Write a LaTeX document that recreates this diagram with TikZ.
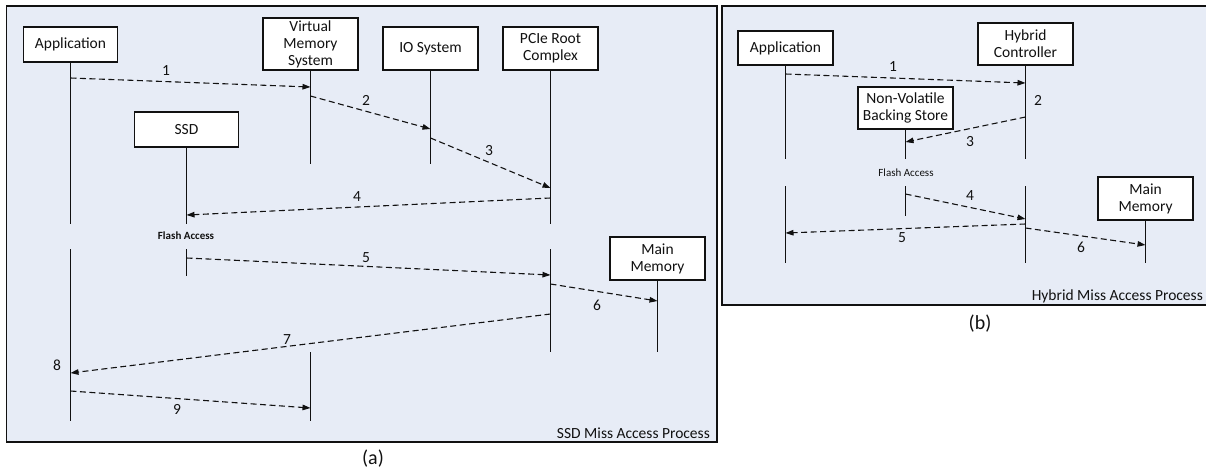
\documentclass[tikz,border=0pt]{standalone}
\usepackage{fontspec}
\setmainfont{Carlito}
\usetikzlibrary{arrows.meta}
\definecolor{panelfill}{HTML}{E7ECF6}
\definecolor{ink}{HTML}{111111}
\begin{document}
\begin{tikzpicture}[x=1pt,y=-1pt,
  box/.style={draw=ink, line width=1.1pt, fill=white, align=center, inner sep=0pt,
    font=\fontsize{15.5}{17}\selectfont, text=ink},
  life/.style={draw=ink, line width=1.2pt},
  msg/.style={draw=ink, line width=1.1pt, dash pattern=on 6pt off 3.5pt,
    -{Triangle[length=8pt,width=5.5pt]}},
  lbl/.style={font=\fontsize{15.5}{17}\selectfont, text=ink, inner sep=0pt},
  smalltext/.style={font=\fontsize{11}{13}\selectfont, text=ink, inner sep=0pt},
  captext/.style={font=\fontsize{20}{24}\selectfont, text=ink, inner sep=0pt},
  panel/.style={draw=ink, line width=1.3pt, fill=panelfill}]
\useasboundingbox (0,0) rectangle (1206,475);
% panels
\draw[panel] (6.5,6) rectangle (717,442);
\draw[panel] (722,6) rectangle (1214,305);

% ---------- (a) SSD ----------
\node[box, minimum width=94pt, minimum height=35pt] (aApp) at (70.5,44.5) {Application};
\node[box, minimum width=95pt, minimum height=52pt] (aVMS) at (310.5,44) {Virtual\\Memory\\System};
\node[box, minimum width=95pt, minimum height=43pt] (aIO) at (430.5,48.5) {IO System};
\node[box, minimum width=95pt, minimum height=43pt] (aPCIe) at (550.5,48.5) {PCIe Root\\Complex};
\node[box, minimum width=104pt, minimum height=35pt] (aSSD) at (186.5,129.5) {SSD};
\node[box, minimum width=95pt, minimum height=43pt] (aMM) at (657.5,258.5) {Main\\Memory};

% lifelines
\draw[life] (aApp.south) -- (aApp |- 0,224);
\draw[life] (aApp |- 0,249) -- (aApp |- 0,421);
\draw[life] (aVMS.south) -- (aVMS |- 0,164);
\draw[life] (aVMS |- 0,352) -- (aVMS |- 0,421);
\draw[life] (aIO.south) -- (aIO |- 0,164);
\draw[life] (aPCIe.south) -- (aPCIe |- 0,224);
\draw[life] (aPCIe |- 0,249) -- (aPCIe |- 0,352);
\draw[life] (aSSD.south) -- (aSSD |- 0,224);
\draw[life] (aSSD |- 0,249) -- (aSSD |- 0,276);
\draw[life] (aMM.south) -- (aMM |- 0,352);

% messages
\draw[msg] (aApp |- 0,78) -- (aVMS |- 0,87);
\draw[msg] (aVMS |- 0,96) -- (aIO |- 0,129);
\draw[msg] (aIO |- 0,138) -- (aPCIe |- 0,188);
\draw[msg] (aPCIe |- 0,198) -- (aSSD |- 0,215);
\draw[msg] (aSSD |- 0,258) -- (aPCIe |- 0,275);
\draw[msg] (aPCIe |- 0,284) -- (aMM |- 0,301);
\draw[msg] (aPCIe |- 0,314) -- (aApp |- 0,373);
\draw[msg] (aApp |- 0,391) -- (aVMS |- 0,408);

% labels
\node[lbl] (aL1) at (166,71) {1};
\node[lbl] (aL2) at (366,100) {2};
\node[lbl] (aL3) at (489,151) {3};
\node[lbl] (aL4) at (357,197) {4};
\node[lbl] (aL5) at (366,258) {5};
\node[lbl] (aL6) at (597,305) {6};
\node[lbl] (aL7) at (287,340) {7};
\node[lbl] (aL8) at (57,365) {8};
\node[lbl] (aL9) at (177,409) {9};
\node[smalltext, font=\fontsize{11}{13}\selectfont\bfseries] (aFA) at (186,236) {Flash Access};
\node[lbl, anchor=east] (aTitle) at (710,433) {SSD Miss Access Process};
\node[captext] (aCap) at (373,459) {(a)};

% ---------- (b) Hybrid ----------
\node[box, minimum width=95pt, minimum height=34pt] (bApp) at (785.5,48) {Application};
\node[box, minimum width=95pt, minimum height=42pt] (bHC) at (1025.5,44) {Hybrid\\Controller};
\node[box, minimum width=95pt, minimum height=42pt] (bNV) at (905.5,108) {Non-Volatile\\Backing Store};
\node[box, minimum width=95pt, minimum height=43pt] (bMM) at (1145.5,198.5) {Main\\Memory};

\draw[life] (bApp.south) -- (bApp |- 0,159);
\draw[life] (bApp |- 0,186) -- (bApp |- 0,263);
\draw[life] (bHC.south) -- (bHC |- 0,159);
\draw[life] (bHC |- 0,186) -- (bHC |- 0,263);
\draw[life] (bNV.south) -- (bNV |- 0,159);
\draw[life] (bNV |- 0,186) -- (bNV |- 0,216);
\draw[life] (bMM.south) -- (bMM |- 0,263);

\draw[msg] (bApp |- 0,74) -- (bHC |- 0,83);
\draw[msg] (bHC |- 0,117) -- (bNV |- 0,142);
\draw[msg] (bNV |- 0,194) -- (bHC |- 0,219);
\draw[msg] (bHC |- 0,224) -- (bApp |- 0,233);
\draw[msg] (bHC |- 0,228) -- (bMM |- 0,245);

\node[lbl] (bL1) at (893,67) {1};
\node[lbl] (bL2) at (1038,100) {2};
\node[lbl] (bL3) at (970,142) {3};
\node[lbl] (bL4) at (970,196) {4};
\node[lbl] (bL5) at (902,238) {5};
\node[lbl] (bL6) at (1081,247) {6};
\node[smalltext] (bFA) at (906,173) {Flash Access};
\node[lbl, anchor=east] (bTitle) at (1203,296) {Hybrid Miss Access Process};
\node[captext] (bCap) at (980,324) {(b)};
\end{tikzpicture}
\end{document}
